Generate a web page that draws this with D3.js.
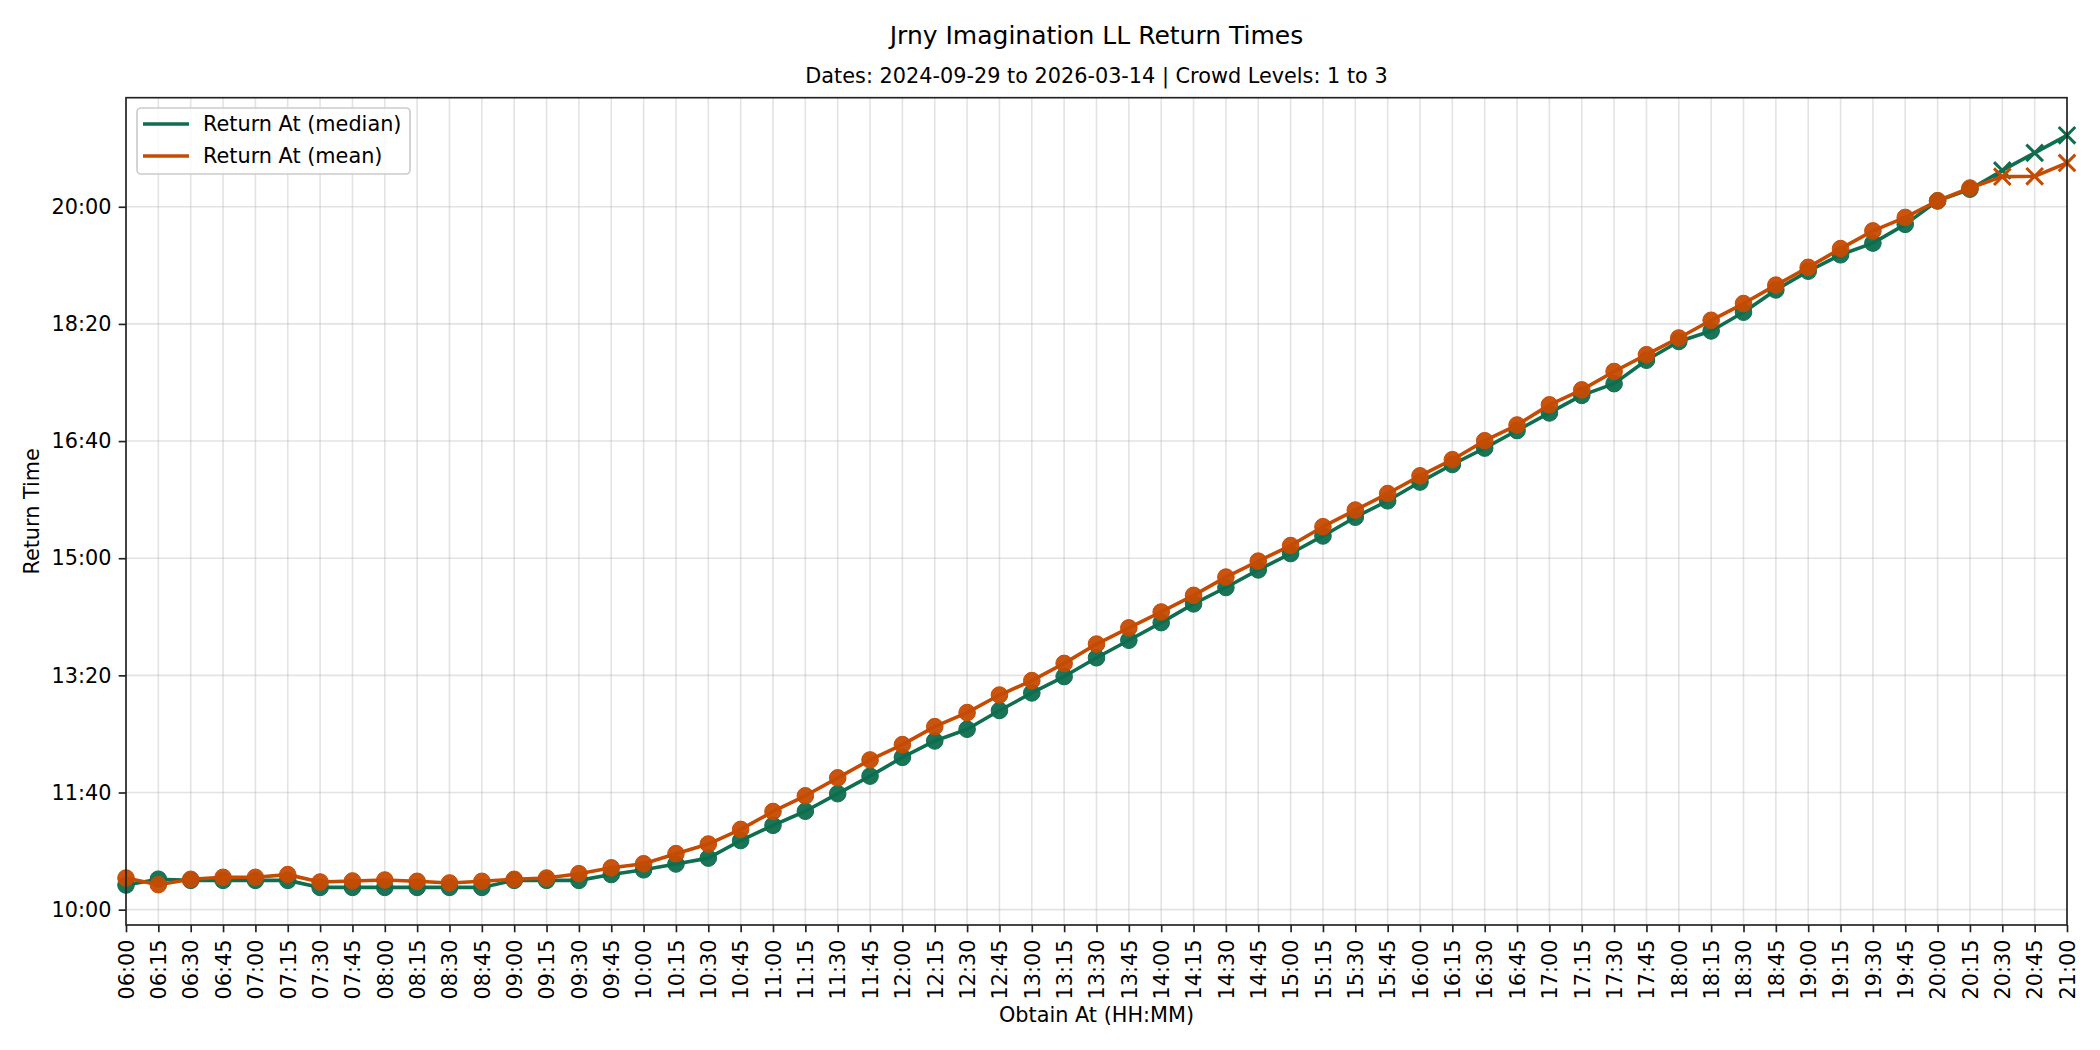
<!DOCTYPE html>
<html>
<head>
<meta charset="utf-8">
<script src="https://cdn.jsdelivr.net/npm/d3@7"></script>
<style>
  body { margin: 0; background: #fff; }
  svg { display: block; font-family: "DejaVu Sans", sans-serif; }
</style>
</head>
<body>
<div id="chart"></div>
<script>
// obtain times (x categories)
const obtainAt = [
  "06:00","06:15","06:30","06:45","07:00","07:15","07:30","07:45",
  "08:00","08:15","08:30","08:45","09:00","09:15","09:30","09:45",
  "10:00","10:15","10:30","10:45","11:00","11:15","11:30","11:45",
  "12:00","12:15","12:30","12:45","13:00","13:15","13:30","13:45",
  "14:00","14:15","14:30","14:45","15:00","15:15","15:30","15:45",
  "16:00","16:15","16:30","16:45","17:00","17:15","17:30","17:45",
  "18:00","18:15","18:30","18:45","19:00","19:15","19:30","19:45",
  "20:00","20:15","20:30","20:45","21:00"
];

// return times, minutes after midnight
const medianReturn = [
  621, 626, 625, 625, 625, 625, 619, 619, 619, 619, 619, 619, 625, 625, 625, 630,
  634, 639, 644, 659, 672, 684, 699, 714, 730, 744, 754, 770, 785, 799, 815, 830,
  845, 861, 875, 890, 904, 919, 935, 949, 965, 980, 994, 1009, 1024, 1039, 1049, 1069,
  1085, 1094, 1110, 1129, 1145, 1159, 1169, 1185, 1205, 1215, 1231, 1246, 1261
];
const meanReturn = [
  627, 621.3, 625.9, 627.6, 627.6, 629.9, 623.6, 624.5, 625.3, 624.2, 622.8, 624.2, 625.9, 627, 630.7, 635.7,
  639.2, 647.8, 656, 668.5, 683.8, 697.2, 712.5, 727.8, 740.9, 756.2, 768.2, 783.2, 795.5, 810.2, 826.7, 840.5,
  854.1, 868.3, 883.9, 897.5, 910.8, 926.9, 941.1, 955.2, 970.3, 984.1, 1000.3, 1013.7, 1030.9, 1043.7, 1059.4, 1073.7,
  1088, 1103.1, 1117.4, 1133.1, 1148.3, 1164.3, 1179.4, 1190.9, 1205.1, 1216, 1225.7, 1226, 1237.4
];

// obtain times drawn with an "x" marker instead of a dot
const crossTimes = ["20:30", "20:45", "21:00"];

const yTickLabels = ["10:00", "11:40", "13:20", "15:00", "16:40", "18:20", "20:00"];

const title = "Jrny Imagination LL Return Times";
const subtitle = "Dates: 2024-09-29 to 2026-03-14 | Crowd Levels: 1 to 3";

const width = 2100, height = 1050;
const margin = { left: 126, right: 2067, top: 97.7, bottom: 925 };
const green = "#0e6e4f", orange = "#c54b02";
const fs = 20.8;

const toMin = s => { const [h, m] = s.split(":").map(Number); return h * 60 + m; };
const fmt = v => `${String(Math.floor(v / 60)).padStart(2, "0")}:${String(v % 60).padStart(2, "0")}`;

const series = [
  { name: "Return At (median)", color: green, values: medianReturn },
  { name: "Return At (mean)", color: orange, values: meanReturn }
];

const svg = d3.select("#chart").append("svg").attr("width", width).attr("height", height);

const xs = obtainAt.map(toMin);
const x = d3.scaleLinear().domain(d3.extent(xs)).range([margin.left, margin.right]);

const all = medianReturn.concat(meanReturn);
const [lo, hi] = d3.extent(all);
const pad = (hi - lo) * 0.05;
const y = d3.scaleLinear().domain([lo - pad, hi + pad]).range([margin.bottom, margin.top]);

// grid
const grid = svg.append("g").attr("stroke", "#b0b0b0").attr("stroke-opacity", 0.35).attr("stroke-width", 1.6);
grid.selectAll("line.v").data(xs).enter().append("line")
  .attr("x1", d => x(d)).attr("x2", d => x(d))
  .attr("y1", margin.top).attr("y2", margin.bottom);
const yTicks = yTickLabels.map(toMin);
grid.selectAll("line.h").data(yTicks).enter().append("line")
  .attr("y1", d => y(d)).attr("y2", d => y(d))
  .attr("x1", margin.left).attr("x2", margin.right);

// axes
const gx = svg.append("g").attr("transform", `translate(0,${margin.bottom})`)
  .call(d3.axisBottom(x).tickValues(xs).tickFormat(fmt).tickSize(7.3).tickPadding(7.3).tickSizeOuter(0));
gx.select(".domain").remove();
gx.selectAll("line").attr("stroke", "#222").attr("stroke-width", 1.67);
gx.selectAll("text")
  .attr("font-size", fs).attr("font-family", "DejaVu Sans").attr("fill", "#000")
  .attr("transform", "rotate(-90)")
  .attr("text-anchor", "end")
  .attr("x", -14.6).attr("y", 0).attr("dy", "0.35em");

const gy = svg.append("g").attr("transform", `translate(${margin.left},0)`)
  .call(d3.axisLeft(y).tickValues(yTicks).tickFormat(fmt).tickSize(7.3).tickPadding(7.3).tickSizeOuter(0));
gy.select(".domain").remove();
gy.selectAll("line").attr("stroke", "#222").attr("stroke-width", 1.67);
gy.selectAll("text").attr("font-size", fs).attr("font-family", "DejaVu Sans").attr("fill", "#000");

// lines and markers
const line = d3.line().x((d, i) => x(xs[i])).y(d => y(d));
series.forEach(s => {
  const g = svg.append("g");
  g.append("path").attr("d", line(s.values))
    .attr("fill", "none").attr("stroke", s.color).attr("stroke-width", 3.6)
    .attr("stroke-linejoin", "round").attr("stroke-linecap", "round");
  const pts = s.values.map((v, i) => ({ v, t: obtainAt[i], xm: xs[i] }));
  g.selectAll("circle").data(pts.filter(p => !crossTimes.includes(p.t))).enter().append("circle")
    .attr("cx", p => x(p.xm)).attr("cy", p => y(p.v)).attr("r", 8.3)
    .attr("fill", s.color).attr("stroke", s.color).attr("stroke-width", 1).attr("fill-opacity", 0.95);
  const r = 8.3;
  g.selectAll("path.cross").data(pts.filter(p => crossTimes.includes(p.t))).enter().append("path")
    .attr("class", "cross")
    .attr("d", p => {
      const cx = x(p.xm), cy = y(p.v);
      return `M${cx - r},${cy - r}L${cx + r},${cy + r}M${cx - r},${cy + r}L${cx + r},${cy - r}`;
    })
    .attr("stroke", s.color).attr("stroke-width", 3).attr("fill", "none");
});

// frame
svg.append("rect")
  .attr("x", margin.left).attr("y", margin.top)
  .attr("width", margin.right - margin.left).attr("height", margin.bottom - margin.top)
  .attr("fill", "none").attr("stroke", "#222").attr("stroke-width", 1.67);

// legend
const lg = svg.append("g");
lg.append("rect").attr("x", 137).attr("y", 108).attr("width", 273).attr("height", 66).attr("rx", 4)
  .attr("fill", "#fff").attr("fill-opacity", 0.8).attr("stroke", "#ccc").attr("stroke-width", 1.67);
series.forEach((s, i) => {
  const cy = 124 + i * 32;
  lg.append("line").attr("x1", 143).attr("x2", 189).attr("y1", cy).attr("y2", cy)
    .attr("stroke", s.color).attr("stroke-width", 3.6);
  lg.append("text").attr("x", 203).attr("y", cy).attr("dy", "0.35em")
    .attr("font-size", fs).text(s.name);
});

// titles and labels
const cx = (margin.left + margin.right) / 2;
svg.append("text").attr("x", cx).attr("y", 35).attr("dy", "0.35em").attr("text-anchor", "middle")
  .attr("font-size", 25).text(title);
svg.append("text").attr("x", cx).attr("y", 76).attr("dy", "0.35em").attr("text-anchor", "middle")
  .attr("font-size", fs).text(subtitle);
svg.append("text").attr("x", cx).attr("y", 1015).attr("dy", "0.35em").attr("text-anchor", "middle")
  .attr("font-size", fs).text("Obtain At (HH:MM)");
svg.append("text").attr("transform", `translate(32,${(margin.top + margin.bottom) / 2}) rotate(-90)`)
  .attr("dy", "0.35em").attr("text-anchor", "middle")
  .attr("font-size", fs).text("Return Time");
</script>
</body>
</html>
